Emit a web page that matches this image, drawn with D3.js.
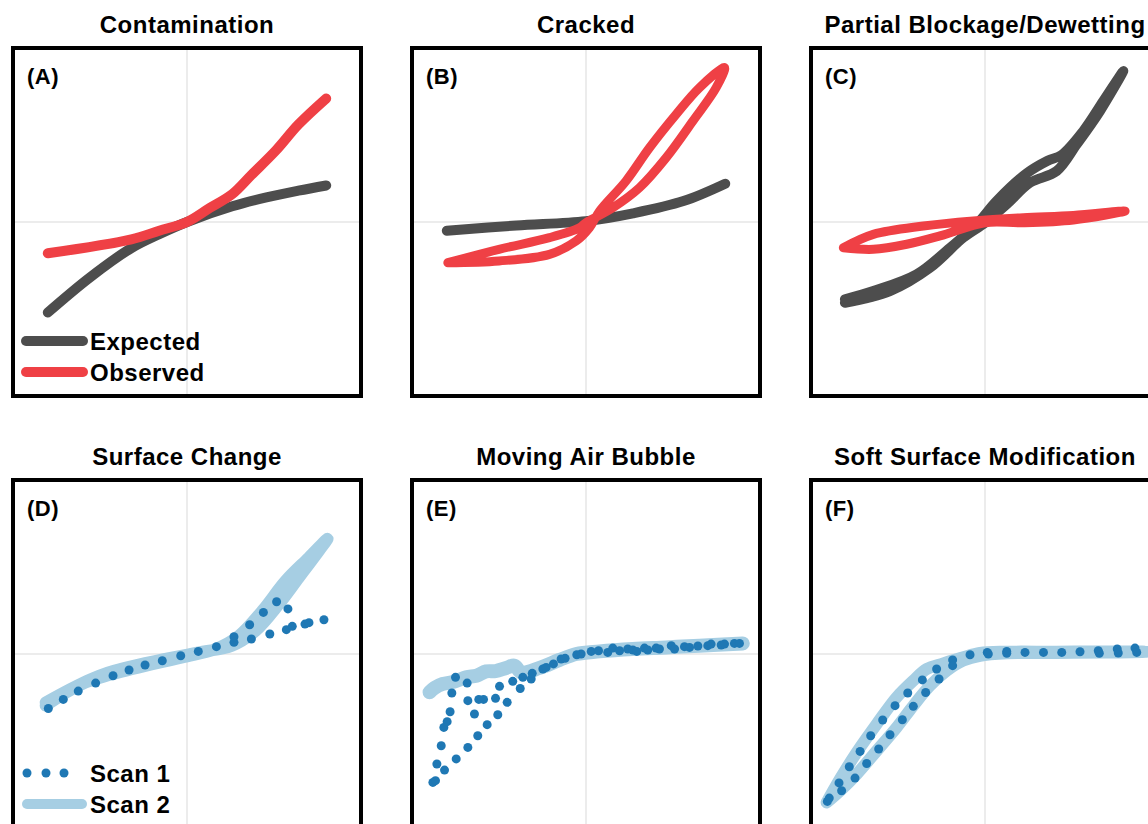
<!DOCTYPE html>
<html lang="en">
<head>
<meta charset="utf-8">
<title>Failure modes</title>
<script src="https://d3js.org/d3.v7.min.js"></script>
<style>
  body { margin: 0; background: #fff; }
  text { font-family: "Liberation Sans", Arial, sans-serif; font-weight: bold; fill: #000; letter-spacing: 0.5px; }
  .grid { stroke: #d9d9d9; stroke-width: 1; }
  .frame { fill: none; stroke: #000; stroke-width: 4; }
  .curve { fill: none; stroke-linecap: round; stroke-linejoin: round; }
</style>
</head>
<body>
<script>
// ---- data (x, y in normalised units, -1..1) ----
const titles = ["Contamination", "Cracked", "Partial Blockage/Dewetting",
                "Surface Change", "Moving Air Bubble", "Soft Surface Modification"];
const labels = ["(A)", "(B)", "(C)", "(D)", "(E)", "(F)"];

const aExpected = [[-0.80,-0.52],[-0.56,-0.32],[-0.32,-0.15],[-0.16,-0.07],[0,0],
  [0.26,0.09],[0.45,0.14],[0.64,0.18],[0.80,0.21]];
const aObserved = [[-0.80,-0.18],[-0.32,-0.10],[-0.16,-0.05],[0,0],[0.13,0.08],
  [0.26,0.16],[0.37,0.27],[0.51,0.41],[0.64,0.56],[0.80,0.71]];

const bExpected = [[-0.80,-0.05],[-0.40,-0.02],[0,0.005],[0.27,0.05],[0.56,0.12],[0.80,0.22]];
const bObserved = [[-0.794,-0.234],[-0.50,-0.224],[-0.21,-0.186],[-0.056,-0.109],[0.02,-0.033],
  [0.078,0.063],[0.23,0.236],[0.365,0.427],[0.518,0.619],[0.652,0.772],[0.796,0.887],
  [0.748,0.772],[0.614,0.580],[0.461,0.370],[0.307,0.197],[0.154,0.082],[0.0,-0.004],
  [-0.037,-0.033],[-0.21,-0.09],[-0.50,-0.157],[-0.794,-0.234]];

const cExpected = [[-0.805,-0.464],[-0.546,-0.397],[-0.316,-0.263],[-0.125,-0.090],[0,-0.004],
  [0.125,0.102],[0.259,0.226],[0.412,0.293],[0.527,0.446],[0.661,0.638],[0.795,0.868],
  [0.680,0.695],[0.565,0.523],[0.440,0.385],[0.360,0.352],[0.240,0.280],[0.067,0.121],
  [-0.048,-0.013],[-0.201,-0.148],[-0.393,-0.301],[-0.642,-0.397],[-0.805,-0.444]];
const cObserved = [[-0.814,-0.148],[-0.642,-0.071],[-0.354,-0.023],[-0.067,0.006],[0.220,0.025],
  [0.508,0.038],[0.805,0.063],[0.508,0.012],[0.220,-0.004],[0,-0.004],[-0.259,-0.080],
  [-0.450,-0.128],[-0.642,-0.157],[-0.814,-0.148]];

const dScan2 = [[-0.812,-0.297],[-0.602,-0.172],[-0.314,-0.086],[-0.027,-0.019],[0.165,0.029],
  [0.299,0.105],[0.433,0.249],[0.567,0.421],[0.701,0.555],[0.807,0.661],[0.759,0.594],
  [0.644,0.440],[0.529,0.287],[0.395,0.134],[0.259,0.048],[0.069,0.009],[-0.218,-0.048],
  [-0.506,-0.125],[-0.812,-0.278]];
const dScan1 = [[-0.797,-0.313],[-0.711,-0.261],[-0.625,-0.213],[-0.525,-0.167],[-0.425,-0.125],
  [-0.333,-0.092],[-0.241,-0.063],[-0.142,-0.039],[-0.036,-0.010],[0.065,0.015],[0.169,0.042],
  [0.270,0.067],[0.270,0.099],[0.360,0.168],[0.439,0.239],[0.515,0.300],[0.580,0.259],
  [0.370,0.086],[0.476,0.115],[0.571,0.140],[0.605,0.159],[0.678,0.172],[0.701,0.180],[0.787,0.197]];

const eScan2 = [[-0.899,-0.220],[-0.870,-0.195],[-0.823,-0.172],[-0.760,-0.160],[-0.689,-0.134],
  [-0.630,-0.125],[-0.574,-0.100],[-0.520,-0.098],[-0.459,-0.080],[-0.411,-0.067],[-0.372,-0.106],
  [-0.267,-0.080],[-0.152,-0.034],[-0.056,0.0],[0.078,0.015],[0.269,0.029],[0.460,0.038],
  [0.652,0.048],[0.901,0.061]];
const eScan1 = [[-0.880,-0.738],[-0.865,-0.728],[-0.857,-0.632],[-0.813,-0.667],[-0.832,-0.527],
  [-0.746,-0.603],[-0.817,-0.422],[-0.798,-0.389],[-0.679,-0.537],[-0.781,-0.332],[-0.622,-0.470],
  [-0.771,-0.224],[-0.568,-0.406],[-0.750,-0.134],[-0.641,-0.345],[-0.507,-0.349],[-0.683,-0.167],
  [-0.679,-0.268],[-0.616,-0.261],[-0.589,-0.261],[-0.520,-0.255],[-0.453,-0.278],[-0.497,-0.186],
  [-0.421,-0.157],[-0.378,-0.198],[-0.363,-0.134],[-0.315,-0.144],[-0.309,-0.111],[-0.248,-0.086],
  [-0.229,-0.077],[-0.187,-0.057],[-0.143,-0.029],[-0.120,-0.025],[-0.053,-0.004],[-0.028,0.0],
  [0.030,0.015],[0.072,0.019],[0.125,0.009],[0.154,0.034],[0.193,0.019],[0.240,0.029],[0.269,0.023],
  [0.292,0.015],[0.336,0.034],[0.355,0.023],[0.403,0.034],[0.422,0.029],[0.490,0.048],[0.509,0.029],
  [0.566,0.042],[0.595,0.038],[0.643,0.046],[0.700,0.048],[0.719,0.057],[0.777,0.052],[0.796,0.057],
  [0.853,0.061],[0.882,0.061]];

const fScan2 = [[-0.910,-0.853],[-0.833,-0.718],[-0.737,-0.565],[-0.622,-0.402],[-0.508,-0.249],
  [-0.412,-0.153],[-0.335,-0.086],[-0.240,-0.054],[-0.125,-0.019],[-0.029,0.006],[0.125,0.013],
  [0.412,0.013],[0.699,0.015],[0.929,0.013],[0.699,0.008],[0.412,0.006],[0.125,0.004],
  [-0.029,-0.010],[-0.125,-0.038],[-0.220,-0.096],[-0.316,-0.182],[-0.412,-0.297],[-0.508,-0.422],
  [-0.622,-0.556],[-0.737,-0.690],[-0.833,-0.786],[-0.910,-0.853]];
const fScan1 = [[-0.906,-0.847],[-0.895,-0.828],[-0.839,-0.741],[-0.824,-0.786],[-0.780,-0.648],
  [-0.747,-0.713],[-0.718,-0.560],[-0.680,-0.629],[-0.657,-0.470],[-0.611,-0.546],[-0.588,-0.379],
  [-0.546,-0.464],[-0.517,-0.297],[-0.475,-0.378],[-0.444,-0.224],[-0.412,-0.301],[-0.360,-0.149],
  [-0.341,-0.221],[-0.278,-0.086],[-0.264,-0.144],[-0.186,-0.034],[-0.186,-0.067],[-0.086,-0.004],
  [0.013,0.009],[0.019,0.0],[0.125,0.015],[0.125,0.004],[0.230,0.009],[0.336,0.009],[0.441,0.009],
  [0.546,0.013],[0.651,0.019],[0.657,0.004],[0.760,0.029],[0.766,0.006],[0.862,0.034],[0.872,0.009]];

const gray = "#4d4d4d", red = "#ef4045", dark = "#1f78b4", light = "#a6cee3";

const panels = [
  { lines: [{ d: aExpected, c: gray, w: 10 }, { d: aObserved, c: red, w: 10 }], legend: "ab" },
  { lines: [{ d: bExpected, c: gray, w: 10 }, { d: bObserved, c: red, w: 9 }] },
  { lines: [{ d: cExpected, c: gray, w: 10 }, { d: cObserved, c: red, w: 9 }] },
  { lines: [{ d: dScan2, c: light, w: 12 }], dots: dScan1, legend: "scan" },
  { lines: [{ d: eScan2, c: light, w: 14 }], dots: eScan1 },
  { lines: [{ d: fScan2, c: light, w: 12 }], dots: fScan1 }
];

// ---- layout ----
const W = 1148, H = 824, size = 348;
const colX = [13, 412, 811], rowY = [48, 480];

const svg = d3.select("body").append("svg").attr("width", W).attr("height", H);

panels.forEach((p, i) => {
  const x0 = colX[i % 3], y0 = rowY[Math.floor(i / 3)];
  const x = d3.scaleLinear().domain([-1, 1]).range([x0, x0 + size]);
  const y = d3.scaleLinear().domain([-1, 1]).range([y0 + size, y0]);
  const g = svg.append("g");

  g.append("text").attr("x", x(0)).attr("y", y0 - 15)
    .attr("text-anchor", "middle").attr("font-size", 24).text(titles[i]);

  g.append("line").attr("class", "grid").attr("x1", x(0)).attr("x2", x(0))
    .attr("y1", y0).attr("y2", y0 + size);
  g.append("line").attr("class", "grid").attr("x1", x0).attr("x2", x0 + size)
    .attr("y1", y(0)).attr("y2", y(0));

  const line = d3.line().curve(d3.curveCatmullRom).x(d => x(d[0])).y(d => y(d[1]));
  p.lines.forEach(l => {
    g.append("path").attr("class", "curve").attr("d", line(l.d))
      .attr("stroke", l.c).attr("stroke-width", l.w);
  });
  if (p.dots) {
    g.selectAll(".dot").data(p.dots).join("circle").attr("class", "dot")
      .attr("cx", d => x(d[0])).attr("cy", d => y(d[1])).attr("r", 4.5).attr("fill", dark);
  }

  g.append("text").attr("x", x0 + 14).attr("y", y0 + 36)
    .attr("font-size", 22).text(labels[i]);

  // legends
  if (p.legend === "ab") {
    [["Expected", gray, 293], ["Observed", red, 324]].forEach(([t, c, dy]) => {
      g.append("line").attr("class", "curve").attr("x1", x0 + 13).attr("x2", x0 + 70)
        .attr("y1", y0 + dy).attr("y2", y0 + dy).attr("stroke", c).attr("stroke-width", 10);
      g.append("text").attr("x", x0 + 77).attr("y", y0 + dy + 9).attr("font-size", 24).text(t);
    });
  }
  if (p.legend === "scan") {
    [0, 19, 37].forEach(dx => {
      g.append("circle").attr("cx", x0 + 14 + dx).attr("cy", y0 + 293).attr("r", 4.5).attr("fill", dark);
    });
    g.append("text").attr("x", x0 + 77).attr("y", y0 + 302).attr("font-size", 24).text("Scan 1");
    g.append("line").attr("class", "curve").attr("x1", x0 + 14).attr("x2", x0 + 69)
      .attr("y1", y0 + 324).attr("y2", y0 + 324).attr("stroke", light).attr("stroke-width", 10);
    g.append("text").attr("x", x0 + 77).attr("y", y0 + 333).attr("font-size", 24).text("Scan 2");
  }

  g.append("rect").attr("class", "frame").attr("x", x0).attr("y", y0)
    .attr("width", size).attr("height", size);
});
</script>
</body>
</html>
